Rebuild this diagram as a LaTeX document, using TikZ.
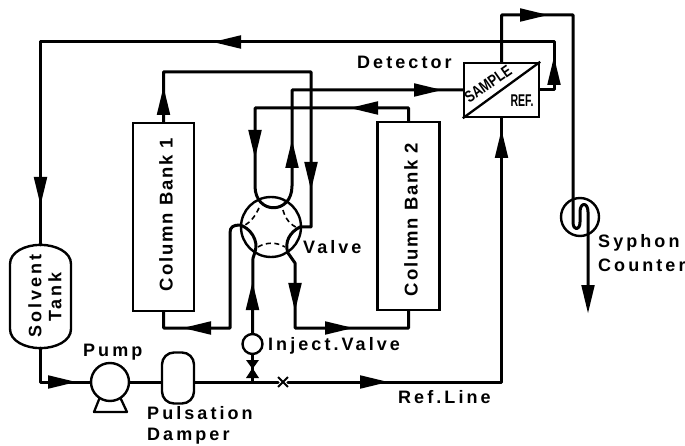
\documentclass[tikz,border=0pt]{standalone}
\usepackage{fontspec}
\usepackage{graphicx}
\setmainfont{Liberation Sans}[BoldFont={Liberation Sans Bold}]
\newfontfamily\lblfont{Liberation Sans Bold}[LetterSpace=17]
\newfontfamily\collfont{Liberation Sans Bold}[LetterSpace=10]
\newfontfamily\plainbold{Liberation Sans Bold}
\usetikzlibrary{shapes.misc}
\tikzset{
  flow/.style={line width=3pt,line join=round,line cap=round},
  thinbox/.style={draw,line width=2.4pt,inner sep=0pt},
  rnd/.style={thinbox,circle,fill=white},
  lbl/.style={font=\lblfont\fontsize{18}{20}\selectfont,inner sep=0pt,anchor=west},
  rlbl/.style={font=\lblfont\fontsize{18}{20}\selectfont,inner sep=0pt,rotate=90,align=center},
  clbl/.style={font=\collfont\fontsize{18.5}{20}\selectfont,inner sep=0pt,rotate=90},
  dash line/.style={line width=1.6pt,dash pattern=on 5pt off 3.5pt},
}
\newcommand{\headat}[3]{\fill[shift={(#1,#2)},rotate=#3] (0,0)--(-28,6.8)--(-28,-6.8)--cycle;}
\begin{document}
\begin{tikzpicture}[x=1pt,y=-1pt]
\useasboundingbox (0,0) rectangle (685,446);
% --- equipment
\node[thinbox,minimum width=75pt,minimum height=54pt] (det) at (501.5,90) {};
\node[thinbox,minimum width=61pt,minimum height=188pt] (col1) at (163.5,217) {};
\node[thinbox,minimum width=62pt,minimum height=188pt] (col2) at (408.5,216) {};
\node[inner sep=0pt,minimum width=61pt,minimum height=103pt] (tank) at (40.5,296.5) {};
\node[rnd,minimum size=38pt] (pump) at (110,382) {};
\node[thinbox,rounded corners=12pt,minimum width=32pt,minimum height=51pt,fill=white] (damper) at (178,378) {};
\node[rnd,minimum size=20pt] (inj) at (252.5,344) {};
\node[rnd,minimum size=60pt] (valve) at (271,227) {};
\node[rnd,draw,minimum size=38pt] (syphon) at (580,217) {};
\node[cross out,draw,line width=1.8pt,minimum size=8pt,inner sep=0pt] (xm) at (283,382) {};
% --- tank outline
\draw[thinbox] (tank.north) .. controls (25,245) and (10,252) .. (10,264)
  -- (10,329) .. controls (10,341) and (25,348) .. (tank.south)
  .. controls (56,348) and (71,341) .. (71,329)
  -- (71,264) .. controls (71,252) and (56,245) .. (tank.north);
% --- pump base
\coordinate (pb1) at (100,397); \coordinate (pb2) at (94,412);
\coordinate (pb3) at (127,412); \coordinate (pb4) at (120,397);
\draw[line width=2.3pt,line join=round] (pb1) -- (pb2) -- (pb3) -- (pb4);
% --- routing points
\coordinate (r1) at (554,42);
\coordinate (r2) at (40.5,42);
\coordinate (o1) at (501.5,15);
\coordinate (o2) at (573,15);
\coordinate (refc) at (501.5,382);
\coordinate (base) at (252.5,382);
\coordinate (c1up) at (163.5,72);
\coordinate (c1rt) at (311,72);
\coordinate (c2up) at (408.5,108);
\coordinate (c2lt) at (255,108);
\coordinate (smp) at (292,90);
\coordinate (c1dn) at (163.5,328);
\coordinate (c1in) at (230,328);
\coordinate (c2dn) at (408.5,328);
\coordinate (c2in) at (295,328);
% --- connectors
\draw[flow] (det.east) -| (r1) -- (r2) -- (tank.north);
\draw[flow] (tank.south) |- (pump.west);
\draw[flow] (pump.east) -- (damper.west |- pump.east);
\draw[flow] (damper.east |- pump.east) -- (xm.west);
\draw[flow] (xm.east) -- (refc) -- (det.south);
\draw[flow] (det.north) -- (o1) -- (o2) -- (573,222)
  .. controls (573,231) and (580,231) .. (580,222) -- (580,212)
  .. controls (580,202) and (588,202) .. (588,212) -- (588,300);
\draw[flow] (col2.north) -- (c2up) -- (c2lt) -- (255,186)
  .. controls (255,215) and (292,215) .. (292,186) -- (smp) -- (det.west);
\draw[flow] (col1.north) -- (c1up) -- (c1rt) -- (311,227) -- (300,227)
  .. controls (290,232) and (284,242) .. (288,253) -- (295,263) -- (c2in) -- (c2dn) -- (col2.south);
\draw[flow] (col1.south) -- (c1dn) -- (c1in) -- (230,233)
  .. controls (230,227) and (233,225) .. (240,225)
  .. controls (250,228) and (259,240) .. (255,252) -- (253,258) -- (inj.north);
\draw[flow,line width=2.4pt] (inj.south) -- (base);
% --- dashed valve passages
\draw[dash line] (259,208) .. controls (256,214) and (252,222) .. (243,226);
\draw[dash line] (283,210) .. controls (285,218) and (290,225) .. (298,228);
\draw[dash line] (258,247) .. controls (266,242) and (277,242) .. (285,247);
% --- diagonal
\draw[line width=2.3pt] (det.south west) -- (det.north east);
% --- hourglass
\fill (246,360)--(259,360)--(252.5,369)--cycle;
\fill (246,378)--(259,378)--(252.5,368)--cycle;
% --- arrowheads
\headat{213}{42}{180}
\headat{40.5}{205}{-90}
\headat{76}{382}{0}
\headat{388}{382}{0}
\headat{501.5}{130}{90}
\headat{548}{15}{0}
\headat{554}{57}{90}
\headat{588}{313}{-90}
\headat{163.5}{87}{90}
\headat{311}{190}{-90}
\headat{255}{158}{-90}
\headat{292}{140}{90}
\headat{350}{108}{180}
\headat{442}{90}{0}
\headat{183}{328}{180}
\headat{295}{311}{-90}
\headat{353}{328}{0}
\headat{252.5}{282}{90}
% --- text
\node[lbl] (tdet) at (357,62) {Detector};
\node[clbl] (tc1) at (166,214.5) {Column Bank 1};
\node[clbl] (tc2) at (411,219.5) {Column Bank 2};
\node[lbl] (tval) at (303,247) {Valve};
\node[lbl] (tinj) at (268,346) {Inject.Valve};
\node[lbl] (tpump) at (83,352) {Pump};
\node[lbl] (tpul) at (147,413) {Pulsation};
\node[lbl] (tdam) at (147,436) {Damper};
\node[lbl] (tref) at (398,397) {Ref.Line};
\node[lbl] (tsy) at (598,243) {Syphon};
\node[lbl] (tco) at (598,265) {Counter};
\node[rlbl] (tsol) at (35,296) {Solvent};
\node[rlbl] (ttank) at (55,297) {Tank};
\node[inner sep=0pt,rotate=35,font=\plainbold\fontsize{16}{17}\selectfont] (tsample) at (488,84) {\scalebox{.8}[1]{SAMPLE}};
\node[inner sep=0pt,font=\plainbold\fontsize{17}{18}\selectfont] (tref2) at (522,101) {\scalebox{.62}[1]{REF.}};
\end{tikzpicture}
\end{document}
